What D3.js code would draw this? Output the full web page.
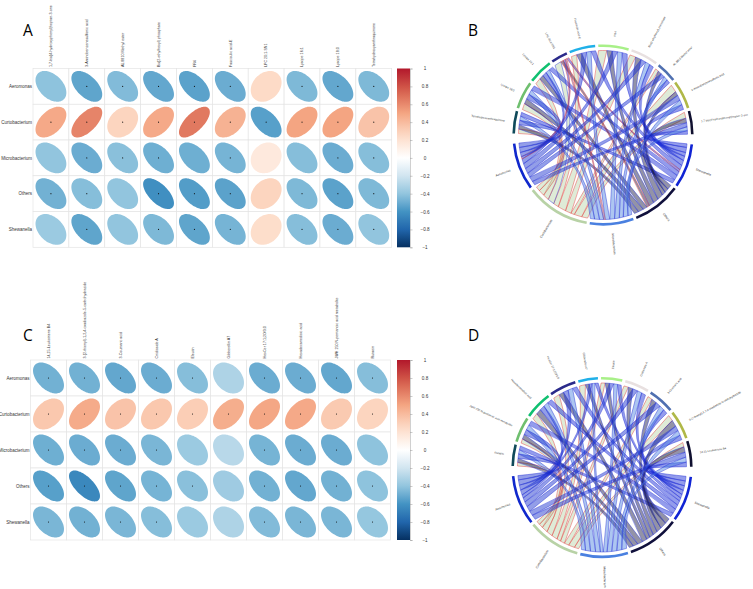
<!DOCTYPE html>
<html><head><meta charset="utf-8">
<script src="https://cdnjs.cloudflare.com/ajax/libs/d3/7.8.5/d3.min.js"></script>
<style>html,body{margin:0;padding:0;background:#fff}svg{display:block}</style>
</head><body><svg id="c" width="753" height="589"></svg>
<script>
const microbes = ["Aeromonas","Curtobacterium","Microbacterium","Others","Shewanella"];
const metabolitesA = ["1,7-bis(4-hydroxyphenyl)heptan-3-one","3-Aminobenzenesulfonic acid","AL 8810 Methyl ester","Bis(2-ethylhexyl) phosphate","FR4","Fasciculic acid-E","LPC 20:1-SN1","Lysope 16:1","Lysope 18:0","Tetrahydroxyanthraquinone"];
const metabolitesC = ["14,15-Leukotriene B4","3-(2-thienyl)-1,2,4-oxadiazole-5-carbohydrazide","3-Coumaric acid","Cnidioside A","Eleutin","Gibberellin A7","HexCer 17:1;2O/3:0","Hexadecanedioic acid","JWH 250 N-pentanoic acid metabolite","Rutaein"];
const valuesA = [
 [-.41,-.53,-.44,-.52,-.54,-.50,.25,-.45,-.52,-.45],
 [.48,.62,.28,.48,.66,.44,-.55,.50,.50,.36],
 [-.40,-.50,-.42,-.49,-.49,-.47,.15,-.43,-.50,-.43],
 [-.48,-.43,-.40,-.62,-.56,-.54,.28,-.45,-.54,-.45],
 [-.37,-.53,-.40,-.45,-.53,-.47,.23,-.43,-.50,-.40]];
const valuesC = [
 [-.48,-.48,-.52,-.50,-.43,-.31,-.50,-.50,-.52,-.43],
 [.34,.47,.36,.34,.31,.46,.49,.48,.33,.28],
 [-.49,-.50,-.50,-.46,-.37,-.28,-.47,-.50,-.50,-.41],
 [-.55,-.65,-.53,-.47,-.42,-.36,-.48,-.52,-.48,-.41],
 [-.46,-.48,-.46,-.43,-.37,-.31,-.44,-.46,-.46,-.39]];
const dotsA = [
 [0,1,1,1,1,1,0,1,1,1],
 [1,1,1,1,1,1,1,1,1,1],
 [0,1,1,1,0,1,0,0,1,1],
 [1,1,0,1,1,1,0,1,1,1],
 [0,1,0,1,1,1,0,1,1,1]];
const dotsC = [
 [1,1,1,1,1,0,1,1,1,1],
 [1,1,1,1,1,1,1,1,1,1],
 [1,1,1,1,0,0,1,1,1,0],
 [1,1,1,1,1,0,1,1,1,1],
 [1,1,1,1,0,0,1,1,1,1]];
const barTicks = [1,.8,.6,.4,.2,0,-.2,-.4,-.6,-.8,-1];

const color = d3.scaleLinear()
  .domain([-1,-.8,-.6,-.4,-.2,0,.25,.5,.75,1])
  .range(["#053061","#2166AC","#4393C3","#92C5DE","#D1E5F0","#FFFFFF","#FDDBC7","#F4A582","#D6604D","#B2182B"]);
const microbeCol = {Shewanella:"#1024d4",Others:"#10103c",Microbacterium:"#4a80e0",Curtobacterium:"#b8d2a6",Aeromonas:"#1028cc"};
const metCol = ["#101030","#b0b848","#5070b0","#e8e0e0","#a8f088","#20b0e8","#2a2a8a","#10c070","#6fbf6f","#0f4a5a"];
const svg = d3.select("#c");
const SANS = "'Liberation Sans',Arial,sans-serif";

function corr(g, mets, vals, dots, opt){
  const x = d3.scaleBand().domain(d3.range(10)).range([opt.x0,opt.x1]);
  const y = d3.scaleBand().domain(d3.range(5)).range([opt.y0,opt.y1]);
  const w = x.bandwidth(), h = y.bandwidth();
  const e = d3.line();
  microbes.forEach((m,i)=>{
    g.append("text").attr("x",opt.x0-1).attr("y",y(i)+h/2+1.6).attr("text-anchor","end")
      .attr("font-size",4.5).attr("font-family",SANS).attr("fill","#333").text(m);
    mets.forEach((_,j)=>{
      g.append("rect").attr("x",x(j)).attr("y",y(i)).attr("width",w).attr("height",h)
       .attr("fill","#fff").attr("stroke","#e4e4e4").attr("stroke-width",.7);
      const r = vals[i][j], d = Math.acos(r);
      const pts = d3.range(0,2*Math.PI,.08).map(t=>[
        x(j)+w/2+.43*w*Math.cos(t+d/2),
        y(i)+h/2-.43*h*Math.cos(t-d/2)]);
      g.append("path").attr("d",e.curve(d3.curveCardinalClosed)(pts)).attr("fill",color(r));
      if(dots[i][j]) g.append("circle").attr("cx",x(j)+w/2).attr("cy",y(i)+h/2).attr("r",.55).attr("fill","#111");
    });
  });
  mets.forEach((m,j)=>{
    g.append("text").attr("transform",`translate(${x(j)+w/2+1.3},${opt.y0-1.5}) rotate(-90)`)
      .attr("font-size",3.65).attr("font-family",SANS).attr("fill","#333").text(m);
  });
  const id = "grad"+opt.id;
  const yb = d3.scaleLinear().domain([1,-1]).range([opt.y0,opt.y1]);
  const lg = svg.append("defs").append("linearGradient").attr("id",id).attr("x1",0).attr("x2",0).attr("y1",0).attr("y2",1);
  d3.range(0,1.001,.05).forEach(t=>lg.append("stop").attr("offset",t).attr("stop-color",color(1-2*t)));
  g.append("rect").attr("x",397).attr("y",opt.y0).attr("width",13).attr("height",opt.y1-opt.y0).attr("fill",`url(#${id})`);
  const ax = d3.axisRight(yb).tickValues(barTicks).tickSize(2.5).tickFormat(d3.format("~g"));
  const ag = g.append("g").attr("transform","translate(410,0)").call(ax);
  ag.select(".domain").attr("stroke","#bbb").attr("stroke-width",.7);
  ag.selectAll(".tick line").attr("stroke","#999").attr("stroke-width",.5);
  ag.selectAll("text").attr("x",15).attr("text-anchor","middle").attr("font-size",4.6).attr("font-family",SANS).attr("fill","#333");
}

function chordDiagram(g, mets, vals, opt){
  const R = 84.5;
  const rad = a=>a*Math.PI/180;
  const wgt = (i,j)=>Math.abs(vals[i][j])*(i===1?1.28:1);
  const mOrder = [4,3,2,1,0];
  const sectors = [];
  mOrder.forEach(i=>sectors.push({type:"m",i,name:microbes[i],col:microbeCol[microbes[i]],
     size:d3.sum(d3.range(10),j=>wgt(i,j))}));
  d3.range(9,-1,-1).forEach(j=>sectors.push({type:"c",j,name:mets[j],col:metCol[j],
     size:d3.sum(d3.range(5),i=>wgt(i,j))}));
  const gaps = sectors.map((s,k)=>k===4||k===14?6.5:2);
  const total = d3.sum(sectors,s=>s.size), k = (360-d3.sum(gaps))/total;
  let a = 6;
  sectors.forEach((s,q)=>{s.a0=a; s.a1=a+s.size*k; a=s.a1+gaps[q]; s.pos=s.a0;});
  const byMicrobe = i=>sectors.find(s=>s.type==="m"&&s.i===i);
  const byMet = j=>sectors.find(s=>s.type==="c"&&s.j===j);
  const links = {};
  mOrder.forEach(i=>{
    const s = byMicrobe(i);
    d3.range(10).forEach(j=>{ const v=wgt(i,j)*k; links[i+"_"+j]={a0:s.pos,a1:s.pos+v,v:vals[i][j],i,j}; s.pos+=v; });
  });
  const inMet = [1,3,0,2,4];
  d3.range(10).forEach(j=>{
    const s = byMet(j);
    inMet.forEach(i=>{ const v=wgt(i,j)*k, l=links[i+"_"+j]; l.b0=s.pos; l.b1=s.pos+v; s.pos+=v; });
  });
  const ctrl = (p,q)=>{
    let dd = ((q-p)%360+360)%360; if(dd>180) dd-=360;
    const mid = p+dd/2, ad=Math.abs(dd);
    const f = ad<=90 ? 1-Math.cos(rad(ad/2)) : .1+.19*(180-ad)/90;
    const cr = f*R;
    return [cr*Math.cos(rad(mid)),cr*Math.sin(rad(mid))];
  };
  const pt = (an,r)=>[r*Math.cos(rad(an)),r*Math.sin(rad(an))];
  const list = Object.values(links).sort((p,q)=>(p.i===1?0:1)-(q.i===1?0:1));
  list.forEach(l=>{
    const p = d3.path();
    const s0=pt(l.a0,R);
    const c=ctrl((l.a0+l.a1)/2,(l.b0+l.b1)/2);
    p.moveTo(...s0);
    p.arc(0,0,R,rad(l.a0),rad(l.a1));
    const e=pt(l.b0,R);
    p.quadraticCurveTo(c[0],c[1],e[0],e[1]);
    p.arc(0,0,R,rad(l.b0),rad(l.b1));
    p.quadraticCurveTo(c[0],c[1],s0[0],s0[1]);
    p.closePath();
    g.append("path").attr("d",p.toString())
      .attr("fill",microbeCol[microbes[l.i]]).attr("fill-opacity",.45)
      .attr("stroke",l.v>0?"#e23a3a":"#2a36d8").attr("stroke-width",.5).attr("stroke-opacity",.9);
  });
  const arc = d3.arc().innerRadius(88).outerRadius(90.6);
  sectors.forEach(s=>{
    g.append("path").attr("d",arc({startAngle:rad(s.a0+90),endAngle:rad(s.a1+90)})).attr("fill",s.col);
    const mid=(s.a0+s.a1)/2, [px,py]=pt(mid,s.type==="m"?opt.rm:opt.rc);
    const left=Math.cos(rad(mid))<0;
    g.append("text").attr("transform",`translate(${px},${py}) rotate(${left?mid+180:mid})`)
      .attr("text-anchor",left?"end":"start").attr("dy",1)
      .attr("font-size",s.type==="m"?3.1:2.8).attr("font-family",SANS).attr("fill","#333").text(s.name);
  });
}

corr(svg.append("g"),metabolitesA,valuesA,dotsA,{id:"a",x0:33,x1:391.7,y0:68.5,y1:247.3});
corr(svg.append("g"),metabolitesC,valuesC,dotsC,{id:"c",x0:30.5,x1:390.5,y0:360,y1:540});
chordDiagram(svg.append("g").attr("transform","translate(603,135)"),metabolitesA,valuesA,{rm:99,rc:99});
chordDiagram(svg.append("g").attr("transform","translate(602,467.5)"),metabolitesC,valuesC,{rm:99,rc:99});
[["A",23,36],["B",468,36],["C",23,341],["D",468,341]].forEach(([t,x,y])=>
  svg.append("text").attr("x",x).attr("y",y).attr("font-size",15.5).attr("font-family","'Open Sans',sans-serif").attr("fill","#000").text(t));
</script></body></html>
